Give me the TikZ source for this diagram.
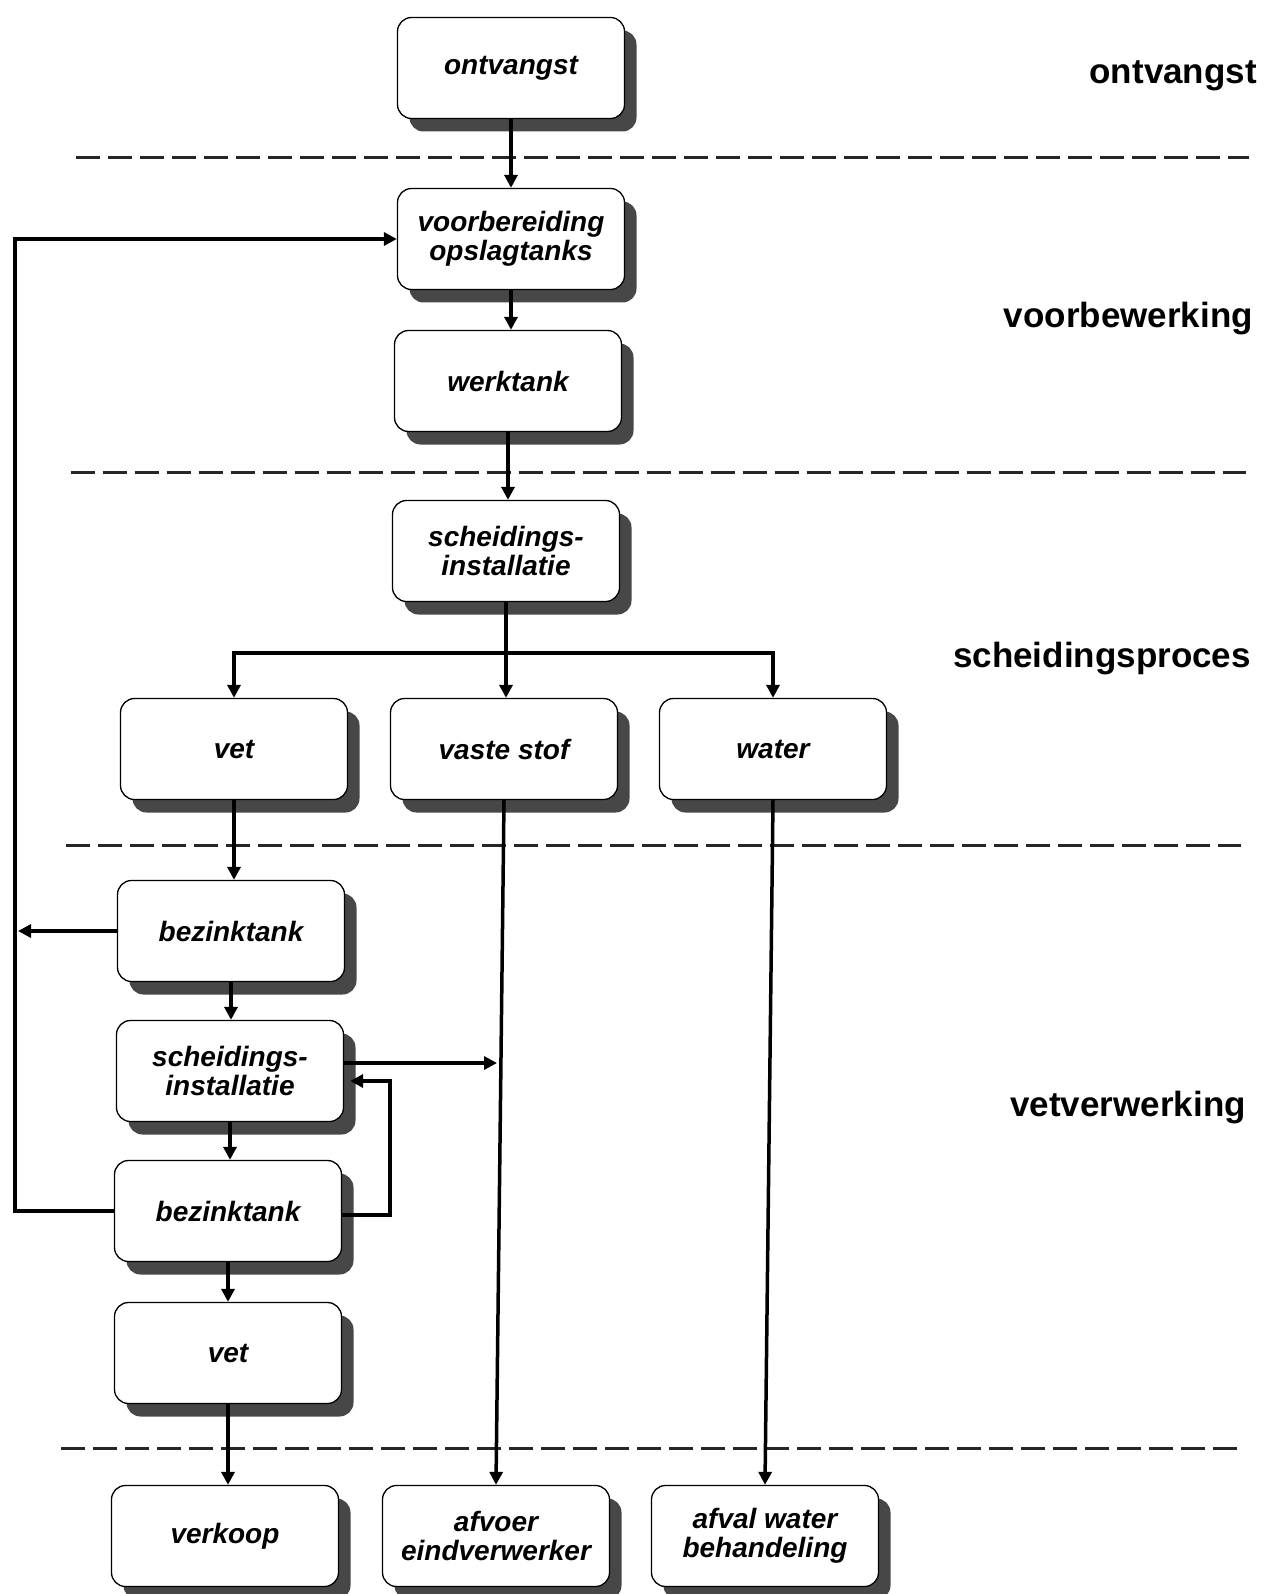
\documentclass[tikz,border=0pt]{standalone}
\usepackage{fontspec}
\setmainfont{Liberation Sans}
\usetikzlibrary{arrows.meta,shadows}
\begin{document}
\begin{tikzpicture}[x=1pt,y=-1pt,
  box/.style={draw=black, line width=1.3pt, fill=white, rounded corners=14pt,
    minimum width=227pt, minimum height=101pt, inner sep=0pt, align=center,
    font=\fontsize{28}{29}\selectfont\bfseries\itshape,
    drop shadow={shadow xshift=12pt, shadow yshift=-13pt, fill=black!72, opacity=1}},
  flow/.style={line width=3.5pt, draw=black, -{Triangle[length=13pt,width=13pt]}},
  plain/.style={line width=3.5pt, draw=black},
  dashline/.style={line width=3pt, draw=black!85, dash pattern=on 24pt off 8pt},
  phase/.style={anchor=base east, inner sep=0pt, font=\fontsize{35}{40}\selectfont\bfseries}]
\useasboundingbox (0,0) rectangle (1264,1594);
\fill[white] (0,0) rectangle (1264,1594);

% dashed separators
\coordinate (d1a) at (76,158);   \coordinate (d1b) at (1249,158);
\coordinate (d2a) at (71,472);   \coordinate (d2b) at (1246,472);
\coordinate (d3a) at (66,845);   \coordinate (d3b) at (1241,845);
\coordinate (d4a) at (61,1448);  \coordinate (d4b) at (1239,1448);
\draw[dashline] (d1a) -- (d1b);
\draw[dashline] (d2a) -- (d2b);
\draw[dashline] (d3a) -- (d3b);
\draw[dashline] (d4a) -- (d4b);

% phase labels
\node[phase] (p1) at (1257,84) {ontvangst};
\node[phase] (p2) at (1253,327) {voorbewerking};
\node[phase] (p3) at (1251,667) {scheidingsproces};
\node[phase] (p4) at (1246,1116) {vetverwerking};

% boxes
\node[box] (ontv)  at (511,68)   {ontvangst};
\node[box] (voorb) at (511,239)  {voorbereiding\\opslagtanks};
\node[box] (werk)  at (508,381)  {werktank};
\node[box] (sch1)  at (506,551)  {scheidings-\\installatie};
\node[box] (vet1)  at (234,749)  {vet};
\node[box] (vaste) at (504,749)  {vaste stof};
\node[box] (water) at (773,749)  {water};
\node[box] (bez1)  at (231,931)  {bezinktank};
\node[box] (sch2)  at (230,1071) {scheidings-\\installatie};
\node[box] (bez2)  at (228,1211) {bezinktank};
\node[box] (vet2)  at (228,1353) {vet};
\node[box] (verk)  at (225,1536) {verkoop};
\node[box] (afvoer) at (496,1536) {afvoer\\eindverwerker};
\node[box] (afval) at (765,1536) {afval water\\behandeling};

% helper coordinates
\coordinate (br) at (505,653);
\coordinate (L) at (15,0);
\coordinate (Ltip) at (18,0);
\coordinate (R) at (390,0);
\coordinate (vsin) at (497,1063);
\coordinate (sch2in) at ([xshift=6pt,yshift=-10pt]sch2.east);
\coordinate (sch2out) at ([yshift=8pt]sch2.east);
\coordinate (bez2out) at ([yshift=-4pt]bez2.east);

% main chain
\draw[flow] (ontv.south) -- (voorb.north);
\draw[flow] (voorb.south) -- (voorb.south |- werk.north);
\draw[flow] (werk.south) -- (werk.south |- sch1.north);
\draw[flow] (sch1.south) -- (sch1.south |- vaste.north);
\draw[flow] (sch1.south) -- (sch1.south |- br) -| (vet1.north);
\draw[flow] (sch1.south) -- (sch1.south |- br) -| (water.north);

% lower chain
\draw[flow] (vet1.south) -- (vet1.south |- bez1.north);
\draw[flow] (bez1.south) -- (bez1.south |- sch2.north);
\draw[flow] (sch2.south) -- (sch2.south |- bez2.north);
\draw[flow] (bez2.south) -- (bez2.south |- vet2.north);
\draw[flow] (vet2.south) -- (vet2.south |- verk.north);
\draw[flow] (vaste.south) -- (afvoer.north);
\draw[flow] (water.south) -- (afval.north);

% feedback loops
\draw[flow] (bez2.west) -| (L |- voorb.west) -- (voorb.west);
\draw[flow] (bez1.west) -- (bez1.west -| Ltip);
\draw[flow] (sch2out) -- (vsin);
\draw[flow] (bez2out) -| (R |- sch2in) -- (sch2in);
\end{tikzpicture}
\end{document}
